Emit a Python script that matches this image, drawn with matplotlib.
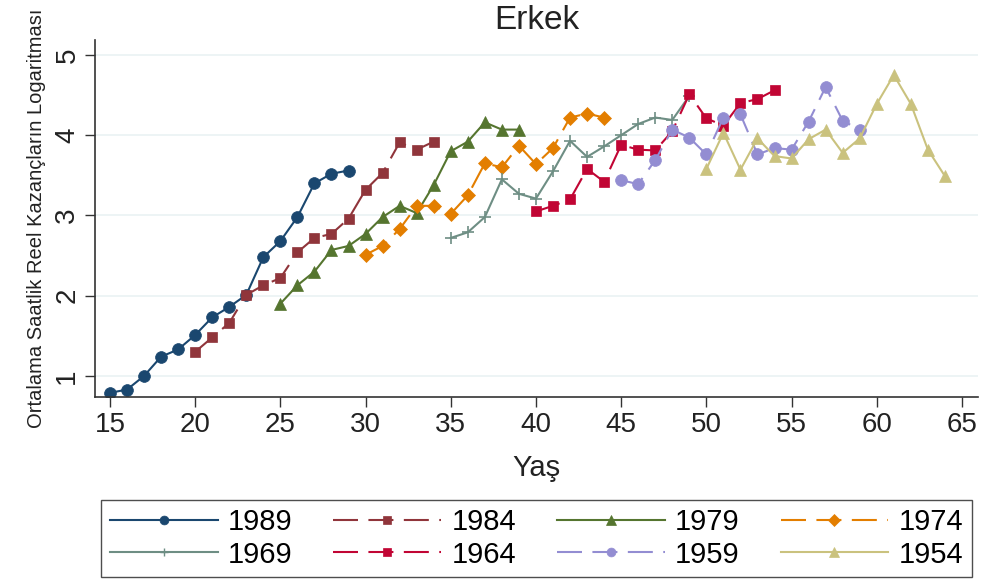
import matplotlib
matplotlib.use("Agg")
import matplotlib.pyplot as plt
from matplotlib.lines import Line2D

plt.rcParams['font.family'] = ['Liberation Sans', 'DejaVu Sans']

cohorts = ["1989", "1984", "1979", "1974", "1969", "1964", "1959", "1954"]
start_ages = [15, 20, 25, 30, 35, 40, 45, 50]
v1989 = [0.79, 0.83, 1.00, 1.24, 1.33, 1.51, 1.73, 1.86, 2.01, 2.48, 2.68, 2.98, 3.40, 3.52, 3.56]
v1984 = [1.30, 1.48, 1.66, 2.01, 2.13, 2.22, 2.54, 2.72, 2.77, 2.96, 3.32, 3.53, 3.91, 3.82, 3.92]
v1979 = [1.90, 2.13, 2.30, 2.57, 2.62, 2.77, 2.98, 3.12, 3.03, 3.38, 3.80, 3.92, 4.16, 4.07, 4.07]
v1974 = [2.51, 2.62, 2.83, 3.12, 3.12, 3.02, 3.25, 3.65, 3.60, 3.87, 3.64, 3.84, 4.22, 4.27, 4.22]
v1969 = [2.72, 2.79, 2.98, 3.45, 3.27, 3.21, 3.55, 3.93, 3.73, 3.86, 4.00, 4.14, 4.22, 4.19, 4.49]
v1964 = [3.05, 3.12, 3.20, 3.58, 3.42, 3.88, 3.82, 3.81, 4.05, 4.51, 4.21, 4.12, 4.40, 4.45, 4.56]
v1959 = [3.44, 3.39, 3.69, 4.07, 3.97, 3.76, 4.22, 4.26, 3.76, 3.84, 3.82, 4.17, 4.60, 4.18, 4.07]
v1954 = [3.58, 4.03, 3.57, 3.96, 3.74, 3.71, 3.95, 4.07, 3.78, 3.96, 4.39, 4.75, 4.39, 3.82, 3.49]
values = [v1989, v1984, v1979, v1974, v1969, v1964, v1959, v1954]

x_ticks = [15, 20, 25, 30, 35, 40, 45, 50, 55, 60, 65]
y_ticks = [1, 2, 3, 4, 5]

colors = ["#1a476f", "#90353b", "#55752f", "#e37e00", "#6e8e84", "#c10534", "#938dd2", "#cac27e"]
markers = ["o", "s", "^", "D", "+", "s", "o", "^"]
msizes = [8.5, 7.5, 9, 7.5, 8.5, 7.5, 8.5, 9]
dashed = [False, True, False, True, False, True, True, False]

fig = plt.figure(figsize=(9.83, 5.85), dpi=100)
ax = fig.add_axes([0.0966, 0.3214, 0.8983, 0.6103])

handles = []
for lab, a0, vals, c, m, ms, d in zip(cohorts, start_ages, values, colors, markers, msizes, dashed):
    ages = list(range(a0, a0 + len(vals)))
    kw = dict(color=c, marker=m, markersize=ms, linewidth=1.5, markeredgewidth=1.2 if m == "+" else 0.5,
              markeredgecolor=c, markerfacecolor=c)
    ln, = ax.plot(ages, vals, **kw)
    if d:
        ln.set_dashes((12, 5))
    h = Line2D([], [], color=c, marker=m, markersize=ms * 0.75, linewidth=1.5,
               markeredgewidth=1.0 if m == "+" else 0.5, markeredgecolor=c, markerfacecolor=c)
    if d:
        h.set_dashes((12, 5))
    handles.append(h)

# row-wise legend order for 4 columns x 2 rows
order = [0, 4, 1, 5, 2, 6, 3, 7]
leg_handles = [handles[i] for i in order]
leg_labels = [cohorts[i] for i in order]

ax.set_xlim(14.12, 65.94)
ax.set_ylim(0.738, 5.187)
ax.set_xticks(x_ticks)
ax.set_yticks(y_ticks)
ax.tick_params(axis='both', direction='out', length=7, width=1, labelsize=20, colors='#333333',
               labelcolor='#222222')
ax.tick_params(axis='y', labelrotation=90)
for t in ax.get_yticklabels():
    t.set_va('center')
ax.yaxis.grid(True, color='#eaf2f3', linewidth=1.2)
ax.set_axisbelow(True)
for s in ['top', 'right']:
    ax.spines[s].set_visible(False)
for s in ['left', 'bottom']:
    ax.spines[s].set_color('#333333')
    ax.spines[s].set_linewidth(1.2)

ax.set_title("Erkek", fontsize=24, color='#222222', pad=8)
ax.set_xlabel("Yaş", fontsize=21, color='#222222', labelpad=12)
ax.set_ylabel("Ortalama Saatlik Reel Kazançların Logaritması", fontsize=14.5, color='#222222', labelpad=6)

leg = fig.legend(leg_handles, leg_labels, ncol=4, loc='center',
                 bbox_to_anchor=(0.5458, 0.0795),
                 fontsize=21, frameon=True, fancybox=False, edgecolor='#222222',
                 handlelength=3.7, handletextpad=0.35, columnspacing=1.4,
                 labelspacing=0.15, borderpad=0.3)
leg.get_frame().set_linewidth(1.0)

fig.savefig("out.png", dpi=100)
